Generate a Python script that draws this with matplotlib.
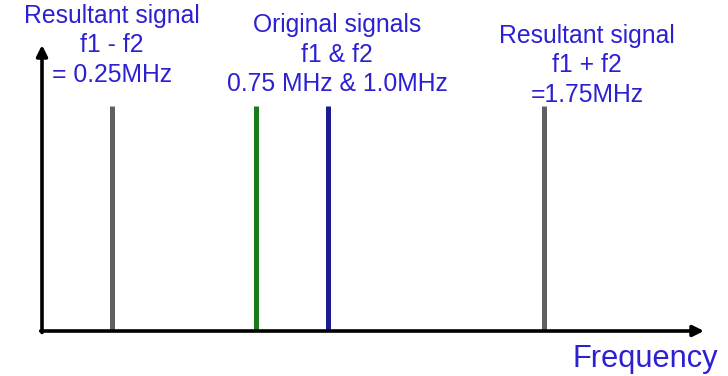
import matplotlib
matplotlib.use("Agg")
import matplotlib.pyplot as plt

# Data
freqs = [0.25, 0.75, 1.0, 1.75]          # MHz
amps = [1.0, 1.0, 1.0, 1.0]
colors = ["#606060", "#1b7a1b", "#1c1c8f", "#606060"]
label_lines = [
    ["Resultant signal", "f1 - f2", "= 0.25MHz"],
    ["Original signals", "f1 & f2", "0.75 MHz & 1.0MHz"],
    ["Resultant signal", "f1 + f2", "=1.75MHz"],
]
xlabel = "Frequency"

# layout (pixels): label block centre x, first baseline y
label_pos = [(112, 23), (337, 32), (587, 43)]
line_step = 29.5

W, H = 728, 376
fig = plt.figure(figsize=(W / 100, H / 100), dpi=100)
ax = fig.add_axes([0, 0, 1, 1])
px = 288.0  # pixels per MHz
x0 = 40.0   # pixel of 0 MHz
y0 = 331.0  # pixel of baseline
py = 225.0  # pixels per unit amplitude
ax.set_xlim(-x0 / px, (W - x0) / px)
ax.set_ylim(-(H - y0) / py, y0 / py)
ax.axis("off")

for f, a, c in zip(freqs, amps, colors):
    ax.vlines(f, 0, a, color=c, lw=3.6, zorder=2)

# axes arrows
ax0 = 2 / px
ax.annotate("", xy=(ax0, (y0 - 45) / py), xytext=(ax0, -1.5 / py),
            arrowprops=dict(arrowstyle="-|>", lw=2.6, color="black",
                            mutation_scale=16, shrinkA=0, shrinkB=0), zorder=3)
ax.annotate("", xy=((704 - x0) / px, 0), xytext=(ax0 - 1.3 / px, 0),
            arrowprops=dict(arrowstyle="-|>", lw=2.6, color="black",
                            mutation_scale=16, shrinkA=0, shrinkB=0), zorder=3)

tc = "#2c20d2"
for lines, (cx, by) in zip(label_lines, label_pos):
    for i, t in enumerate(lines):
        fig.text(cx / W, 1 - (by + i * line_step) / H, t, ha="center",
                 va="baseline", color=tc, fontsize=17.8,
                 family="Liberation Sans")

fig.text(718 / W, 1 - 367 / H, xlabel, ha="right", va="baseline", color=tc,
         fontsize=22.2, family="Liberation Sans")

fig.savefig("out.png", dpi=100)
